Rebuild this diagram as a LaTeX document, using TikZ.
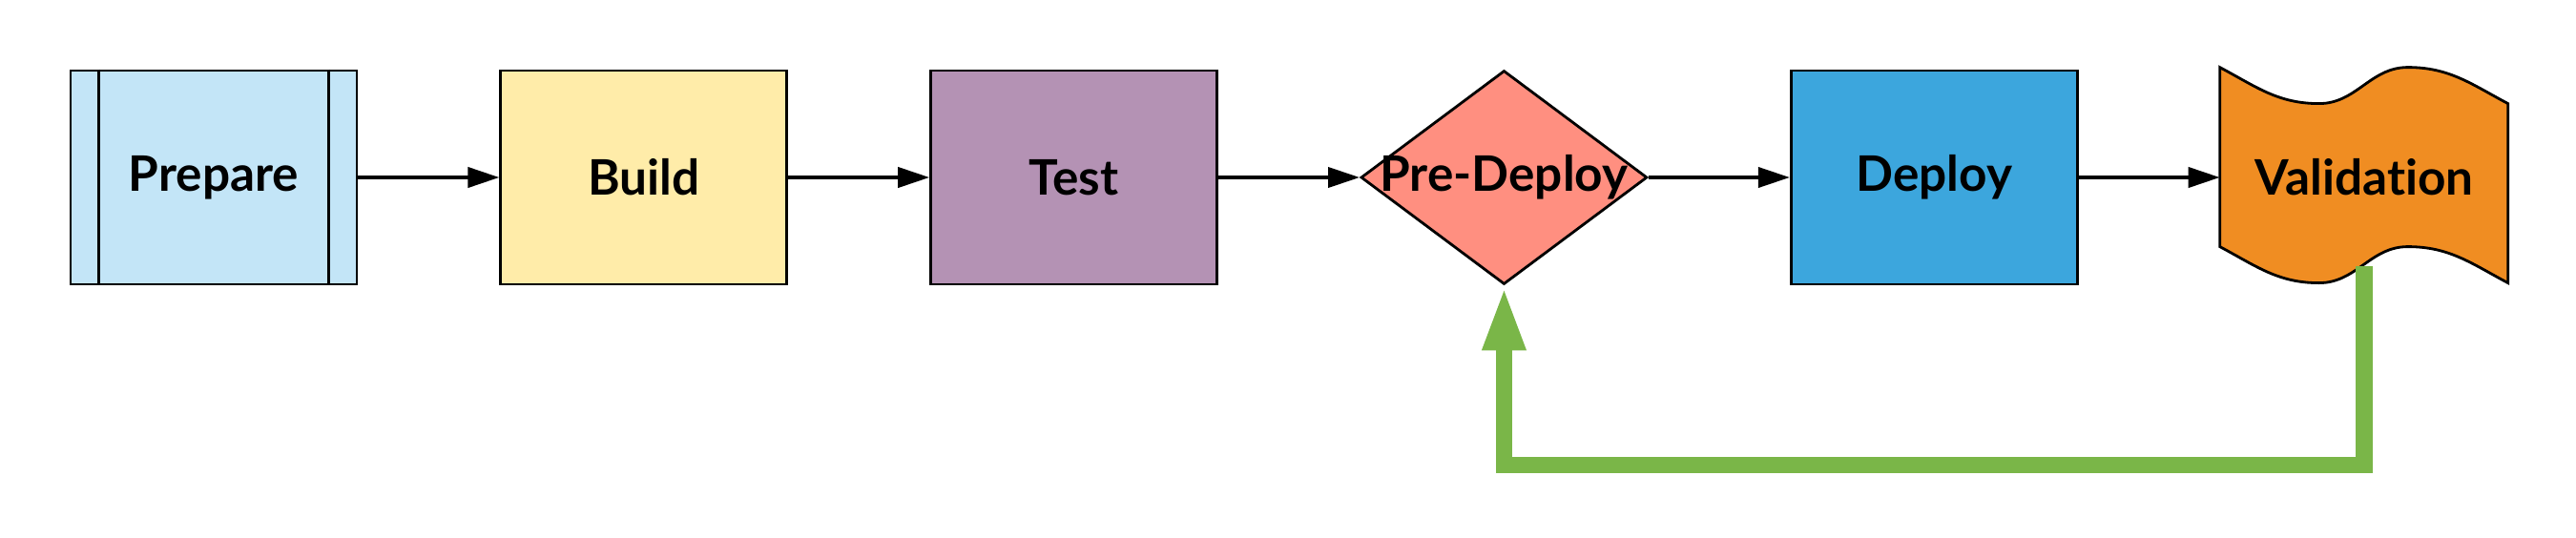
\documentclass[tikz,border=0pt]{standalone}
\usepackage{fontspec}
\setmainfont{Lato}[Ligatures={NoCommon}]
\usetikzlibrary{positioning, shapes.geometric, arrows.meta, backgrounds}

\definecolor{preparefill}{HTML}{C3E5F7}
\definecolor{buildfill}{HTML}{FFECA9}
\definecolor{testfill}{HTML}{B492B4}
\definecolor{predeployfill}{HTML}{FF8F80}
\definecolor{deployfill}{HTML}{3CA6DD}
\definecolor{validationfill}{HTML}{F08D22}
\definecolor{loopgreen}{HTML}{7AB648}

\begin{document}
\begin{tikzpicture}[
    stage/.style={draw, line width=0.8pt, minimum width=3cm, minimum height=2.24cm, inner sep=0pt, font=\fontsize{14.6}{17}\selectfont\bfseries},
    flow/.style={-{Triangle[length=0.33cm,width=0.21cm]}, line width=1.1pt},
    feedback/.style={-{Triangle[length=0.68cm,width=0.41cm]}, line width=0.175cm, draw=loopgreen}
]
    \useasboundingbox (0,0) rectangle (27,-5.63);

    \node[stage, fill=preparefill] (prepare) at (2.24,-1.86) {Prepare};
        \draw[line width=0.8pt] ([xshift=0.31cm]prepare.north west) -- ([xshift=0.31cm]prepare.south west);
        \draw[line width=0.8pt] ([xshift=-0.31cm]prepare.north east) -- ([xshift=-0.31cm]prepare.south east);
    \node[stage, fill=buildfill, right=1.48cm of prepare] (build) {Build};
    \node[stage, fill=testfill, right=1.48cm of build] (test) {Test};

    \node[stage, shape=diamond, aspect=1.34, fill=predeployfill, right=1.48cm of test] (predeploy) {};
        \node[font=\fontsize{14.6}{17}\selectfont\bfseries] (predeploylabel) at (predeploy) {Pre-Deploy};

    \node[stage, fill=deployfill, right=1.48cm of predeploy] (deploy) {Deploy};

    % wavy box, outline drawn behind the text
    \node[stage, draw=none, minimum height=2.28cm, right=1.48cm of deploy] (validation) {Validation};
    \begin{scope}[on background layer]
        \draw[line width=0.8pt, fill=validationfill] (validation.north west)
            to[out=-28,in=180] ++(1.04,-0.38) to[out=0,in=180] ++(0.93,0.38) to[out=0,in=152] ++(1.05,-0.38)
            -- ++(0,-1.88)
            to[out=152,in=0] ++(-1.05,0.38) to[out=180,in=0] ++(-0.93,-0.38) to[out=180,in=-28] ++(-1.04,0.38)
            -- cycle;
    \end{scope}

    \draw[flow] (prepare) -- (build);
    \draw[flow] (build) -- (test);
    \draw[flow] (test) -- (predeploy);
    \draw[flow] (predeploy) -- (deploy);
    \draw[flow] (deploy) -- (validation);

    \coordinate (fbstart) at ([yshift=0.22cm]validation.south);
    \draw[feedback] (fbstart) -- ++(0,-2.08) -| (predeploy.south);

\end{tikzpicture}
\end{document}
